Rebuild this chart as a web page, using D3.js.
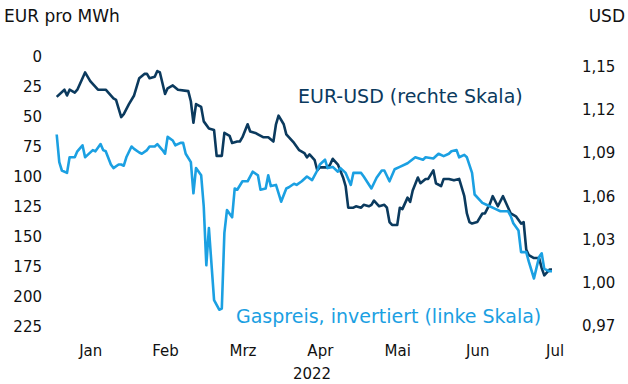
<!DOCTYPE html>
<html>
<head>
<meta charset="utf-8">
<script src="https://cdn.jsdelivr.net/npm/d3@7"></script>
<style>
  html, body { margin: 0; padding: 0; background: #fff; }
  svg { display: block; font-family: "DejaVu Sans", sans-serif; }
  .tick text { fill: #111; }
</style>
</head>
<body>
<div id="chart"></div>
<script>
// EUR-USD (right axis)
const fxDates = ['2022-01-03','2022-01-06','2022-01-07','2022-01-08','2022-01-10','2022-01-11','2022-01-14','2022-01-16','2022-01-19','2022-01-22','2022-01-25','2022-01-26','2022-01-28','2022-01-29','2022-01-31','2022-02-02','2022-02-04','2022-02-06','2022-02-07','2022-02-08','2022-02-10','2022-02-11','2022-02-12','2022-02-14','2022-02-15','2022-02-17','2022-02-19','2022-02-23','2022-02-24','2022-02-25','2022-02-26','2022-02-28','2022-03-01','2022-03-03','2022-03-05','2022-03-06','2022-03-08','2022-03-09','2022-03-11','2022-03-12','2022-03-14','2022-03-15','2022-03-16','2022-03-18','2022-03-19','2022-03-21','2022-03-22','2022-03-24','2022-03-26','2022-03-28','2022-03-29','2022-03-30','2022-04-01','2022-04-02','2022-04-05','2022-04-07','2022-04-09','2022-04-10','2022-04-11','2022-04-13','2022-04-14','2022-04-15','2022-04-16','2022-04-18','2022-04-19','2022-04-20','2022-04-22','2022-04-24','2022-04-25','2022-04-26','2022-04-28','2022-04-29','2022-05-01','2022-05-02','2022-05-04','2022-05-05','2022-05-06','2022-05-08','2022-05-10','2022-05-11','2022-05-12','2022-05-13','2022-05-15','2022-05-16','2022-05-17','2022-05-19','2022-05-20','2022-05-21','2022-05-23','2022-05-24','2022-05-26','2022-05-27','2022-05-29','2022-05-30','2022-06-01','2022-06-02','2022-06-04','2022-06-06','2022-06-08','2022-06-10','2022-06-11','2022-06-12','2022-06-13','2022-06-15','2022-06-17','2022-06-18','2022-06-20','2022-06-21','2022-06-23','2022-06-25','2022-06-27','2022-06-28','2022-06-30','2022-07-02','2022-07-03','2022-07-04','2022-07-05','2022-07-07','2022-07-09','2022-07-10','2022-07-11','2022-07-13','2022-07-14'];
const fxValues = [1.129,1.134,1.130,1.134,1.132,1.134,1.146,1.140,1.134,1.134,1.128,1.127,1.115,1.117,1.124,1.130,1.142,1.145,1.145,1.142,1.143,1.147,1.146,1.131,1.135,1.137,1.134,1.133,1.126,1.111,1.124,1.122,1.112,1.107,1.106,1.088,1.088,1.104,1.102,1.097,1.098,1.098,1.101,1.110,1.105,1.104,1.103,1.101,1.101,1.098,1.110,1.116,1.110,1.103,1.097,1.092,1.090,1.087,1.089,1.085,1.078,1.080,1.080,1.080,1.082,1.086,1.082,1.073,1.067,1.052,1.052,1.053,1.052,1.054,1.053,1.054,1.057,1.053,1.054,1.052,1.042,1.040,1.040,1.052,1.051,1.059,1.056,1.064,1.073,1.069,1.072,1.072,1.078,1.069,1.067,1.072,1.072,1.071,1.072,1.060,1.048,1.042,1.041,1.042,1.048,1.048,1.055,1.060,1.053,1.060,1.052,1.048,1.046,1.041,1.042,1.023,1.019,1.017,1.017,1.010,1.005,1.009,1.009];

// Gas price in EUR/MWh (left axis, inverted)
const gasDates = ['2022-01-03','2022-01-04','2022-01-05','2022-01-07','2022-01-08','2022-01-10','2022-01-11','2022-01-13','2022-01-14','2022-01-15','2022-01-17','2022-01-18','2022-01-20','2022-01-21','2022-01-22','2022-01-24','2022-01-25','2022-01-27','2022-01-28','2022-01-29','2022-01-30','2022-02-01','2022-02-02','2022-02-04','2022-02-05','2022-02-07','2022-02-08','2022-02-10','2022-02-11','2022-02-13','2022-02-14','2022-02-15','2022-02-17','2022-02-18','2022-02-20','2022-02-21','2022-02-22','2022-02-24','2022-02-25','2022-02-26','2022-02-28','2022-03-01','2022-03-02','2022-03-03','2022-03-05','2022-03-07','2022-03-08','2022-03-09','2022-03-10','2022-03-12','2022-03-13','2022-03-14','2022-03-16','2022-03-18','2022-03-20','2022-03-22','2022-03-23','2022-03-25','2022-03-26','2022-03-27','2022-03-29','2022-03-31','2022-04-02','2022-04-03','2022-04-05','2022-04-06','2022-04-08','2022-04-10','2022-04-12','2022-04-14','2022-04-15','2022-04-17','2022-04-18','2022-04-20','2022-04-22','2022-04-23','2022-04-25','2022-04-27','2022-04-28','2022-05-01','2022-05-02','2022-05-05','2022-05-07','2022-05-09','2022-05-10','2022-05-12','2022-05-14','2022-05-16','2022-05-19','2022-05-22','2022-05-25','2022-05-26','2022-05-29','2022-05-31','2022-06-02','2022-06-04','2022-06-05','2022-06-07','2022-06-08','2022-06-10','2022-06-11','2022-06-13','2022-06-14','2022-06-17','2022-06-19','2022-06-22','2022-06-24','2022-06-27','2022-06-28','2022-06-29','2022-07-01','2022-07-02','2022-07-04','2022-07-05','2022-07-07','2022-07-09','2022-07-10','2022-07-11','2022-07-13','2022-07-14'];
const gasValues = [65,88,95,97,84,84,79,74,84,82,78,79,73,78,79,90,93,90,90,91,84,75,77,80,81,78,75,75,73,78,81,67,70,74,72,72,81,88,114,93,99,125,174,143,203,211,210,147,128,134,110,111,104,104,96,99,111,110,99,108,107,121,110,109,106,107,104,100,103,95,90,86,93,92,96,93,97,107,97,97,100,110,101,95,95,104,94,92,89,84,86,84,85,81,83,81,79,78,84,82,84,97,115,122,124,127,129,129,133,139,145,163,163,171,185,167,164,177,179,179];

const leftTicks = [0, 25, 50, 75, 100, 125, 150, 175, 200, 225];
const rightTicks = [0.97, 1.00, 1.03, 1.06, 1.09, 1.12, 1.15];
const monthTicks = ['2022-01-16','2022-02-14','2022-03-16','2022-04-15','2022-05-15','2022-06-15','2022-07-15'];

const width = 628, height = 384;
const darkBlue = '#0b3a5e', lightBlue = '#1ba0e2';

const parse = d3.timeParse('%Y-%m-%d');
const de = d3.timeFormatLocale({
    dateTime: '%A, der %e. %B %Y, %X', date: '%d.%m.%Y', time: '%H:%M:%S',
    periods: ['AM', 'PM'],
    days: ['Sonntag','Montag','Dienstag','Mittwoch','Donnerstag','Freitag','Samstag'],
    shortDays: ['So','Mo','Di','Mi','Do','Fr','Sa'],
    months: ['Januar','Februar','März','April','Mai','Juni','Juli','August','September','Oktober','November','Dezember'],
    shortMonths: ['Jan','Feb','Mrz','Apr','Mai','Jun','Jul','Aug','Sep','Okt','Nov','Dez']
});
const numDe = d3.formatLocale({decimal: ',', thousands: '.', grouping: [3], currency: ['', ' €']});

const svg = d3.select('#chart').append('svg')
    .attr('width', width)
    .attr('height', height);

const x = d3.scaleTime()
    .domain([parse('2022-01-03'), parse('2022-07-15')])
    .range([56.7, 554.6]);
const yGas = d3.scaleLinear().domain([0, 225]).range([56.5, 326.5]);
const yFx = d3.scaleLinear().domain([0.97, 1.15]).range([325.7, 66.7]);

// axes
const gx = svg.append('g')
    .attr('transform', 'translate(0,340)')
    .call(d3.axisBottom(x).tickValues(monthTicks.map(parse)).tickFormat(de.format('%b')).tickSize(0).tickPadding(5));
gx.select('.domain').remove();
gx.selectAll('text').attr('font-size', 15).attr('font-family', '"DejaVu Sans", sans-serif');

const gl = svg.append('g')
    .attr('transform', 'translate(42,0)')
    .call(d3.axisLeft(yGas).tickValues(leftTicks).tickFormat(d3.format('d')).tickSize(0).tickPadding(0));
gl.select('.domain').remove();
gl.selectAll('text').attr('font-size', 15).attr('font-family', '"DejaVu Sans", sans-serif');

const gr = svg.append('g')
    .attr('transform', 'translate(582,0)')
    .call(d3.axisRight(yFx).tickValues(rightTicks).tickFormat(numDe.format('.2f')).tickSize(0).tickPadding(0));
gr.select('.domain').remove();
gr.selectAll('text').attr('font-size', 15).attr('font-family', '"DejaVu Sans", sans-serif');

// lines
const fxData = fxDates.map((d, i) => ({date: parse(d), value: fxValues[i]}));
const gasData = gasDates.map((d, i) => ({date: parse(d), value: gasValues[i]}));

svg.append('path')
    .datum(fxData)
    .attr('fill', 'none')
    .attr('stroke', darkBlue)
    .attr('stroke-width', 2.6)
    .attr('stroke-linejoin', 'round')
    .attr('d', d3.line().x(d => x(d.date)).y(d => yFx(d.value)));

svg.append('path')
    .datum(gasData)
    .attr('fill', 'none')
    .attr('stroke', lightBlue)
    .attr('stroke-width', 2.6)
    .attr('stroke-linejoin', 'round')
    .attr('d', d3.line().x(d => x(d.date)).y(d => yGas(d.value)));

// titles and labels
svg.append('text').attr('x', 4).attr('y', 22).attr('font-size', 17).attr('fill', '#111').text('EUR pro MWh');
svg.append('text').attr('x', 625).attr('y', 22).attr('text-anchor', 'end').attr('font-size', 17).attr('fill', '#111').text('USD');
svg.append('text').attr('x', 312).attr('y', 379).attr('text-anchor', 'middle').attr('font-size', 15).attr('fill', '#111').text('2022');

svg.append('text').attr('x', 298).attr('y', 103).attr('font-size', 19).attr('fill', darkBlue).text('EUR-USD (rechte Skala)');
svg.append('text').attr('x', 236).attr('y', 323).attr('font-size', 19).attr('fill', lightBlue).text('Gaspreis, invertiert (linke Skala)');
</script>
</body>
</html>
